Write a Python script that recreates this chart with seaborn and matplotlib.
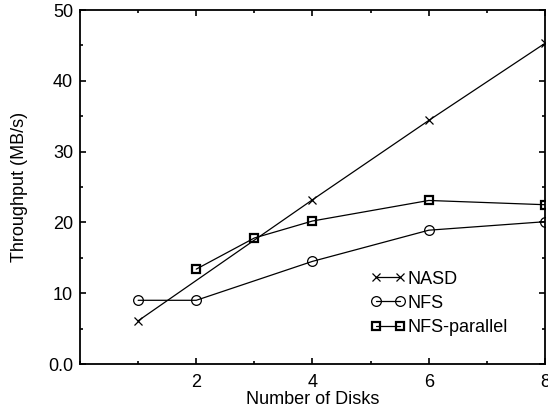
import pandas as pd
import matplotlib
matplotlib.use("Agg")
import matplotlib.pyplot as plt
import seaborn as sns
from matplotlib.ticker import MultipleLocator

# data
disks = [1, 2, 3, 4, 6, 8]
nasd = [6.1, None, None, 23.2, 34.4, 45.3]
nfs = [9.0, 9.0, None, 14.5, 18.9, 20.1]
nfs_parallel = [None, 13.4, 17.8, 20.2, 23.1, 22.5]

series = ["NASD", "NFS", "NFS-parallel"]
markers = ["x", "o", "s"]
sizes = [5.5, 7, 6]
edge_widths = [0.9, 0.9, 1.6]

xticks = [2, 4, 6, 8]
yticks = [0, 10, 20, 30, 40, 50]
ytick_labels = ["0.0", "10", "20", "30", "40", "50"]

df = pd.DataFrame({"disks": disks, "NASD": nasd, "NFS": nfs,
                   "NFS-parallel": nfs_parallel})

sns.set_style("ticks")
plt.rcParams["font.family"] = ["Liberation Sans", "DejaVu Sans"]
plt.rcParams["text.color"] = "black"
plt.rcParams["axes.labelcolor"] = "black"
plt.rcParams["xtick.color"] = "black"
plt.rcParams["ytick.color"] = "black"

fig = plt.figure(figsize=(5.48, 4.09), dpi=100)
ax = fig.add_axes([0.146, 0.110, 0.8485, 0.8655])

for name, m, s, ew in zip(series, markers, sizes, edge_widths):
    d = df[["disks", name]].dropna()
    sns.lineplot(data=d, x="disks", y=name, ax=ax, color="black",
                 linewidth=0.9, marker=m, markersize=s,
                 markeredgecolor="black", markerfacecolor="none",
                 markeredgewidth=ew, label=name)

ax.set_xlim(0, 8)
ax.set_ylim(0, 50)
ax.set_xticks(xticks)
ax.set_xticklabels([str(t) for t in xticks])
ax.xaxis.set_minor_locator(MultipleLocator(1))
ax.set_yticks(yticks)
ax.set_yticklabels(ytick_labels)
ax.yaxis.set_minor_locator(MultipleLocator(5))

ax.tick_params(which="both", direction="in", top=True, right=True,
               labelsize=13, width=1.2)
ax.tick_params(axis="x", which="major", length=4, pad=7)
ax.tick_params(axis="y", which="major", length=4, pad=5)
ax.tick_params(which="minor", length=2.5)
for sp in ax.spines.values():
    sp.set_linewidth(1.3)
    sp.set_color("black")

ax.set_xlabel("Number of Disks", fontsize=13, labelpad=0)
ax.set_ylabel("Throughput (MB/s)", fontsize=13, labelpad=14)

ax.legend(loc="upper left", bbox_to_anchor=(0.624, 0.264), frameon=False,
          numpoints=2, handlelength=1.95, handletextpad=0.1,
          labelspacing=0.4, fontsize=13, borderaxespad=0, borderpad=0)

plt.savefig("out.png", dpi=100)
